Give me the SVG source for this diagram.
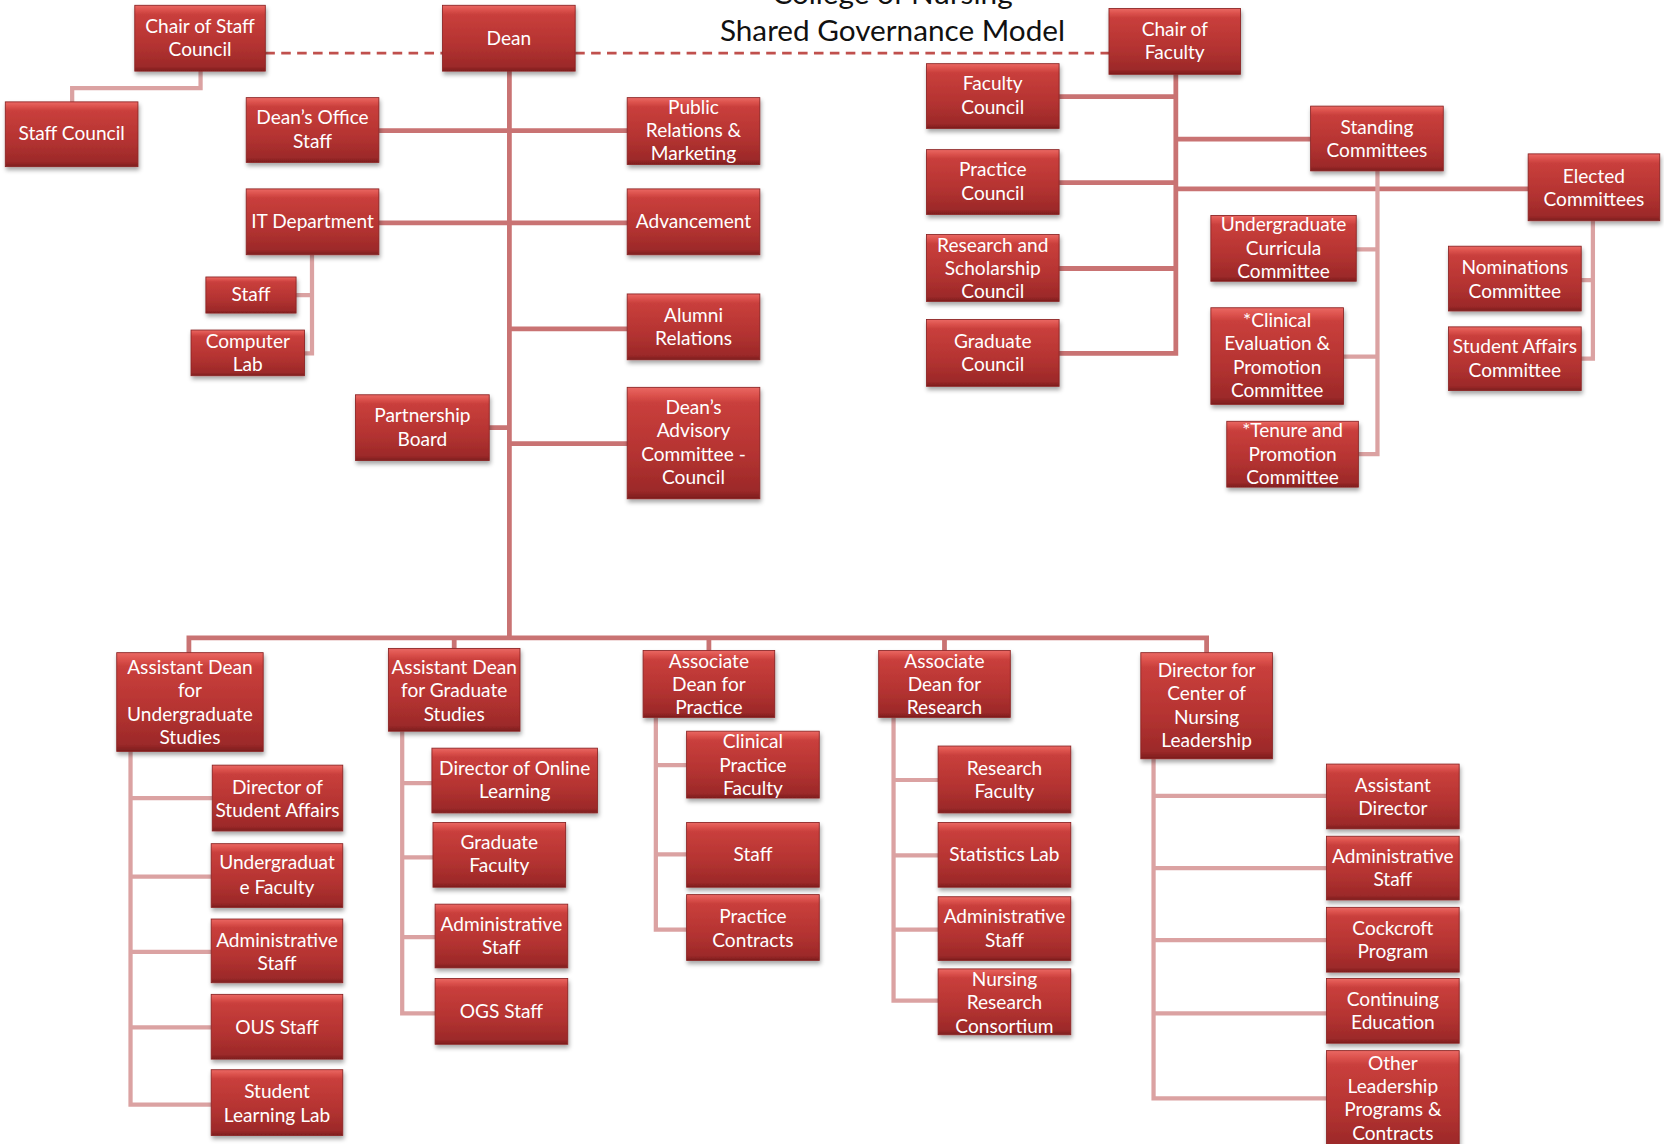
<svg xmlns="http://www.w3.org/2000/svg" width="1664" height="1144" viewBox="0 0 1664 1144">
<defs>
<linearGradient id="boxGrad" x1="0" y1="0" x2="0" y2="1">
<stop offset="0" stop-color="#ea6863"/>
<stop offset="0.07" stop-color="#dc524d"/>
<stop offset="0.14" stop-color="#c93f3c"/>
<stop offset="0.6" stop-color="#b43331"/>
<stop offset="0.93" stop-color="#9c2929"/>
<stop offset="1" stop-color="#7c1d1d"/>
</linearGradient>
<filter id="shadow" x="-10%" y="-10%" width="125%" height="135%">
<feDropShadow dx="1" dy="3" stdDeviation="2.2" flood-color="#000" flood-opacity="0.35"/>
</filter>
</defs>
<style>
.box{fill:url(#boxGrad);stroke:#8a2323;stroke-width:0.8;filter:url(#shadow)}
.t{font-family:Lato,"Open Sans","Liberation Sans",sans-serif;font-size:18px;fill:#ffffff;text-anchor:middle}
.title{font-family:Lato,"Open Sans","Liberation Sans",sans-serif;font-size:28px;fill:#111111;text-anchor:middle}
.main{fill:none;stroke:#c97373;stroke-width:4.5}
.sub{fill:none;stroke:#dba2a2;stroke-width:4}
.dash{fill:none;stroke:#c0504d;stroke-width:2.5;stroke-dasharray:9 6}
</style>
<g transform="scale(1.061224)">
<g id="title">
<text class="title" x="841" y="4">College of Nursing</text>
<text class="title" x="841" y="39">Shared Governance Model</text>
</g>
<g id="connectors">
<path class="dash" d="M250,50 H417 M542,50 H1045"/>
<path class="main" d="M480,67 V601 M357,123 H591 M357,210 H591 M480,310 H591 M461,403 H480 M480,418 H591"/>
<path class="main" d="M178,615 V601 H1137 V615 M428,601 V611 M668,601 V613 M890,601 V613"/>
<path class="main" d="M1108,70 V333 H998 M998,91 H1108 M1108,131 H1235 M998,172 H1108 M1108,178 H1440 M998,253 H1108"/>
<path class="sub" d="M189,67 V83 H68 V96"/>
<path class="sub" d="M294,240 V333 H287 M279,278 H294"/>
<path class="sub" d="M1298,161 V428 H1280 M1278,235 H1298 M1266,336 H1298"/>
<path class="sub" d="M1501,208 V338 H1490 M1490,264 H1501"/>
<path class="sub" d="M123,708 V1041 H199 M123,752 H200 M123,826 H199 M123,897 H199 M123,968 H199"/>
<path class="sub" d="M379,689 V955 H410 M379,738 H407 M379,808 H408 M379,883 H410"/>
<path class="sub" d="M618,676 V876 H647 M618,721 H647 M618,805 H647"/>
<path class="sub" d="M842,676 V943 H884 M842,735 H884 M842,806 H884 M842,876 H884"/>
<path class="sub" d="M1087,715 V1035 H1250 M1087,750 H1250 M1087,818 H1250 M1087,886 H1250 M1087,955 H1250"/>
</g>
<g id="chair-staff"><rect class="box" x="127" y="5" width="123" height="62"/><text class="t" x="188.5" y="31">Chair of Staff</text><text class="t" x="188.5" y="53">Council</text></g>
<g id="dean"><rect class="box" x="417" y="5" width="125" height="62"/><text class="t" x="479.5" y="42">Dean</text></g>
<g id="chair-faculty"><rect class="box" x="1045" y="8" width="124" height="62"/><text class="t" x="1107" y="34">Chair of</text><text class="t" x="1107" y="56">Faculty</text></g>
<g id="staff-council"><rect class="box" x="5" y="96" width="125" height="61"/><text class="t" x="67.5" y="132">Staff Council</text></g>
<g id="deans-office"><rect class="box" x="232" y="92" width="125" height="61"/><text class="t" x="294.5" y="117">Dean’s Office</text><text class="t" x="294.5" y="139">Staff</text></g>
<g id="pr"><rect class="box" x="591" y="92" width="125" height="63"/><text class="t" x="653.5" y="107">Public</text><text class="t" x="653.5" y="129">Relations &amp;</text><text class="t" x="653.5" y="151">Marketing</text></g>
<g id="it"><rect class="box" x="232" y="178" width="125" height="62"/><text class="t" x="294.5" y="215">IT Department</text></g>
<g id="advancement"><rect class="box" x="591" y="178" width="125" height="62"/><text class="t" x="653.5" y="215">Advancement</text></g>
<g id="it-staff"><rect class="box" x="194" y="261" width="85" height="34"/><text class="t" x="236.5" y="284">Staff</text></g>
<g id="computer-lab"><rect class="box" x="180" y="311" width="107" height="43"/><text class="t" x="233.5" y="328">Computer</text><text class="t" x="233.5" y="350">Lab</text></g>
<g id="alumni"><rect class="box" x="591" y="277" width="125" height="62"/><text class="t" x="653.5" y="303">Alumni</text><text class="t" x="653.5" y="325">Relations</text></g>
<g id="partnership"><rect class="box" x="335" y="372" width="126" height="62"/><text class="t" x="398" y="398">Partnership</text><text class="t" x="398" y="420">Board</text></g>
<g id="advisory"><rect class="box" x="591" y="365" width="125" height="105"/><text class="t" x="653.5" y="390">Dean’s</text><text class="t" x="653.5" y="412">Advisory</text><text class="t" x="653.5" y="434">Committee -</text><text class="t" x="653.5" y="456">Council</text></g>
<g id="faculty-council"><rect class="box" x="873" y="60" width="125" height="61"/><text class="t" x="935.5" y="85">Faculty</text><text class="t" x="935.5" y="107">Council</text></g>
<g id="practice-council"><rect class="box" x="873" y="141" width="125" height="61"/><text class="t" x="935.5" y="166">Practice</text><text class="t" x="935.5" y="188">Council</text></g>
<g id="research-council"><rect class="box" x="873" y="221" width="125" height="63"/><text class="t" x="935.5" y="237">Research and</text><text class="t" x="935.5" y="259">Scholarship</text><text class="t" x="935.5" y="281">Council</text></g>
<g id="graduate-council"><rect class="box" x="873" y="301" width="125" height="63"/><text class="t" x="935.5" y="328">Graduate</text><text class="t" x="935.5" y="350">Council</text></g>
<g id="standing"><rect class="box" x="1235" y="100" width="125" height="61"/><text class="t" x="1297.5" y="126">Standing</text><text class="t" x="1297.5" y="148">Committees</text></g>
<g id="elected"><rect class="box" x="1440" y="145" width="124" height="63"/><text class="t" x="1502" y="172">Elected</text><text class="t" x="1502" y="194">Committees</text></g>
<g id="ugcc"><rect class="box" x="1141" y="203" width="137" height="62"/><text class="t" x="1209.5" y="218">Undergraduate</text><text class="t" x="1209.5" y="240">Curricula</text><text class="t" x="1209.5" y="262">Committee</text></g>
<g id="cep"><rect class="box" x="1141" y="290" width="125" height="91"/><text class="t" x="1203.5" y="308">*Clinical</text><text class="t" x="1203.5" y="330">Evaluation &amp;</text><text class="t" x="1203.5" y="352">Promotion</text><text class="t" x="1203.5" y="374">Committee</text></g>
<g id="tenure"><rect class="box" x="1156" y="397" width="124" height="62"/><text class="t" x="1218" y="412">*Tenure and</text><text class="t" x="1218" y="434">Promotion</text><text class="t" x="1218" y="456">Committee</text></g>
<g id="nominations"><rect class="box" x="1365" y="232" width="125" height="61"/><text class="t" x="1427.5" y="258">Nominations</text><text class="t" x="1427.5" y="281">Committee</text></g>
<g id="student-affairs-committee"><rect class="box" x="1365" y="308" width="125" height="60"/><text class="t" x="1427.5" y="333">Student Affairs</text><text class="t" x="1427.5" y="355">Committee</text></g>
<g id="ad-ug"><rect class="box" x="110" y="615" width="138" height="93"/><text class="t" x="179" y="635">Assistant Dean</text><text class="t" x="179" y="657">for</text><text class="t" x="179" y="679">Undergraduate</text><text class="t" x="179" y="701">Studies</text></g>
<g id="ad-g"><rect class="box" x="366" y="611" width="124" height="78"/><text class="t" x="428" y="635">Assistant Dean</text><text class="t" x="428" y="657">for Graduate</text><text class="t" x="428" y="679">Studies</text></g>
<g id="ad-p"><rect class="box" x="606" y="613" width="124" height="63"/><text class="t" x="668" y="629">Associate</text><text class="t" x="668" y="651">Dean for</text><text class="t" x="668" y="673">Practice</text></g>
<g id="ad-r"><rect class="box" x="828" y="613" width="124" height="63"/><text class="t" x="890" y="629">Associate</text><text class="t" x="890" y="651">Dean for</text><text class="t" x="890" y="673">Research</text></g>
<g id="dir-cnl"><rect class="box" x="1075" y="615" width="124" height="100"/><text class="t" x="1137" y="638">Director for</text><text class="t" x="1137" y="660">Center of</text><text class="t" x="1137" y="682">Nursing</text><text class="t" x="1137" y="704">Leadership</text></g>
<g id="dir-student-affairs"><rect class="box" x="200" y="721" width="123" height="62"/><text class="t" x="261.5" y="748">Director of</text><text class="t" x="261.5" y="770">Student Affairs</text></g>
<g id="ug-faculty"><rect class="box" x="199" y="795" width="124" height="60"/><text class="t" x="261" y="819">Undergraduat</text><text class="t" x="261" y="842">e Faculty</text></g>
<g id="ug-admin"><rect class="box" x="199" y="866" width="124" height="60"/><text class="t" x="261" y="892">Administrative</text><text class="t" x="261" y="914">Staff</text></g>
<g id="ous-staff"><rect class="box" x="199" y="937" width="124" height="61"/><text class="t" x="261" y="974">OUS Staff</text></g>
<g id="student-lab"><rect class="box" x="199" y="1008" width="124" height="62"/><text class="t" x="261" y="1035">Student</text><text class="t" x="261" y="1057">Learning Lab</text></g>
<g id="dir-online"><rect class="box" x="407" y="705" width="156" height="61"/><text class="t" x="485" y="730">Director of Online</text><text class="t" x="485" y="752">Learning</text></g>
<g id="grad-faculty"><rect class="box" x="408" y="775" width="125" height="61"/><text class="t" x="470.5" y="800">Graduate</text><text class="t" x="470.5" y="822">Faculty</text></g>
<g id="g-admin"><rect class="box" x="410" y="852" width="125" height="60"/><text class="t" x="472.5" y="877">Administrative</text><text class="t" x="472.5" y="899">Staff</text></g>
<g id="ogs-staff"><rect class="box" x="410" y="922" width="125" height="62"/><text class="t" x="472.5" y="959">OGS Staff</text></g>
<g id="clinical-faculty"><rect class="box" x="647" y="689" width="125" height="63"/><text class="t" x="709.5" y="705">Clinical</text><text class="t" x="709.5" y="727">Practice</text><text class="t" x="709.5" y="749">Faculty</text></g>
<g id="p-staff"><rect class="box" x="647" y="775" width="125" height="61"/><text class="t" x="709.5" y="811">Staff</text></g>
<g id="practice-contracts"><rect class="box" x="647" y="843" width="125" height="62"/><text class="t" x="709.5" y="870">Practice</text><text class="t" x="709.5" y="892">Contracts</text></g>
<g id="research-faculty"><rect class="box" x="884" y="703" width="125" height="63"/><text class="t" x="946.5" y="730">Research</text><text class="t" x="946.5" y="752">Faculty</text></g>
<g id="stats-lab"><rect class="box" x="884" y="775" width="125" height="61"/><text class="t" x="946.5" y="811">Statistics Lab</text></g>
<g id="r-admin"><rect class="box" x="884" y="845" width="125" height="60"/><text class="t" x="946.5" y="870">Administrative</text><text class="t" x="946.5" y="892">Staff</text></g>
<g id="nrc"><rect class="box" x="884" y="913" width="125" height="62"/><text class="t" x="946.5" y="929">Nursing</text><text class="t" x="946.5" y="951">Research</text><text class="t" x="946.5" y="973">Consortium</text></g>
<g id="asst-director"><rect class="box" x="1250" y="720" width="125" height="61"/><text class="t" x="1312.5" y="746">Assistant</text><text class="t" x="1312.5" y="768">Director</text></g>
<g id="d-admin"><rect class="box" x="1250" y="788" width="125" height="60"/><text class="t" x="1312.5" y="813">Administrative</text><text class="t" x="1312.5" y="835">Staff</text></g>
<g id="cockcroft"><rect class="box" x="1250" y="855" width="125" height="61"/><text class="t" x="1312.5" y="881">Cockcroft</text><text class="t" x="1312.5" y="903">Program</text></g>
<g id="continuing-ed"><rect class="box" x="1250" y="922" width="125" height="61"/><text class="t" x="1312.5" y="948">Continuing</text><text class="t" x="1312.5" y="970">Education</text></g>
<g id="other-programs"><rect class="box" x="1250" y="990" width="125" height="95"/><text class="t" x="1312.5" y="1008">Other</text><text class="t" x="1312.5" y="1030">Leadership</text><text class="t" x="1312.5" y="1052">Programs &amp;</text><text class="t" x="1312.5" y="1074">Contracts</text></g>
</g>
</svg>
